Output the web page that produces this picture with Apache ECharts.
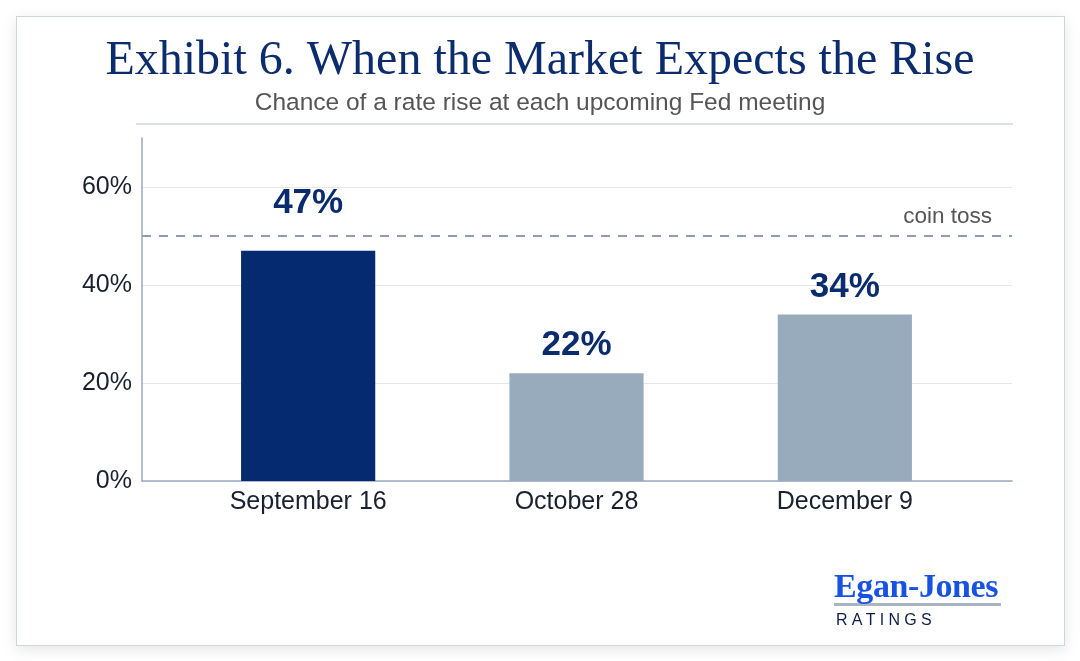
<!DOCTYPE html>
<html>
<head>
<meta charset="utf-8">
<script src="https://cdn.jsdelivr.net/npm/echarts@6/dist/echarts.min.js"></script>
<style>
  html, body { margin: 0; padding: 0; background: #ffffff; }
  #card {
    position: absolute; left: 16px; top: 16px; width: 1047px; height: 628px;
    border: 1px solid #cdd3df; background: #fff;
    box-shadow: 0 4px 14px rgba(0,0,0,0.10);
  }
  #main { position: absolute; left: 0; top: 0; width: 1080px; height: 661px; }
  #logo { position: absolute; left: 834px; top: 569px; font-family: "Liberation Serif", serif; }
  #logo .brand { font-size: 34px; font-weight: bold; color: #1752e3; line-height: 34px;
    border-bottom: 3px solid #a9b5c2; letter-spacing: -0.4px; width: 167px; white-space: nowrap; }
  #logo .sub { font-family: "Liberation Sans", Arial, sans-serif; font-size: 16px; color: #0f1f48;
    letter-spacing: 4.3px; margin-top: 5px; margin-left: 2px; }
</style>
</head>
<body>
<div id="card"></div>
<div id="main"></div>
<div id="logo"><div class="brand">Egan-Jones</div><div class="sub">RATINGS</div></div>
<script>
// 数据
var meetings = ['September 16', 'October 28', 'December 9'];
var riseChance = [47, 22, 34];
var barColors = ['#062a6f', '#97abbd', '#97abbd'];
var labelGap = [30, 10, 10]; // 47% 的标签放在虚线上面
var coinToss = 50;

var chartDom = document.getElementById('main');
var myChart = echarts.init(chartDom, null, { renderer: 'canvas' });

var barData = [];
for (var i = 0; i < riseChance.length; i++) {
    barData.push({
        value: riseChance[i],
        itemStyle: { color: barColors[i] },
        label: { distance: labelGap[i] }
    });
}

var option = {
    backgroundColor: 'transparent',
    title: [
        {
            text: 'Exhibit 6. When the Market Expects the Rise',
            left: 'center',
            top: 32,
            textStyle: { fontFamily: 'Liberation Serif', fontSize: 48, fontWeight: 'normal', color: '#0b2c6d' }
        },
        {
            text: 'Chance of a rate rise at each upcoming Fed meeting',
            left: 'center',
            top: 86,
            textStyle: { fontFamily: 'Liberation Sans', fontSize: 24.5, fontWeight: 'normal', color: '#555555' }
        }
    ],
    graphic: [
        {
            type: 'line',
            shape: { x1: 136, y1: 124, x2: 1013, y2: 124 },
            style: { stroke: '#dde1ea', lineWidth: 2 }
        }
    ],
    grid: [
        { left: 142, right: 68, top: 138, bottom: 180 },
        { left: 174, right: 101, top: 138, bottom: 180 }
    ],
    xAxis: [
        {
            gridIndex: 0,
            type: 'value',
            min: 0,
            max: 1,
            axisLine: { show: true, lineStyle: { color: '#9aa8c2', width: 1.5 } },
            axisTick: { show: false },
            axisLabel: { show: false },
            splitLine: { show: false }
        },
        {
            gridIndex: 1,
            type: 'category',
            data: meetings,
            axisLine: { show: false },
            axisTick: { show: false },
            axisLabel: { fontFamily: 'Liberation Sans', fontSize: 25, color: '#1b2030', margin: 9 }
        }
    ],
    yAxis: [
        {
            gridIndex: 0,
            type: 'value',
            min: 0,
            max: 70,
            interval: 20,
            axisLine: { show: true, lineStyle: { color: '#9aa8c2', width: 1.5 } },
            axisTick: { show: false },
            axisLabel: {
                formatter: '{value}%',
                showMaxLabel: false,
                fontFamily: 'Liberation Sans',
                fontSize: 25,
                color: '#1b2030',
                margin: 10
            },
            splitLine: { show: true, showMaxLine: false, lineStyle: { color: '#e6e7ea', width: 1 } }
        },
        {
            gridIndex: 1,
            type: 'value',
            min: 0,
            max: 70,
            show: false
        }
    ],
    series: [
        {
            // 只用来画 coin toss 虚线
            type: 'line',
            xAxisIndex: 0,
            yAxisIndex: 0,
            data: [],
            silent: true,
            markLine: {
                silent: true,
                symbol: 'none',
                data: [{ yAxis: coinToss }],
                lineStyle: { type: [9, 8], color: '#8c9db5', width: 2 },
                label: {
                    position: 'insideEndTop',
                    formatter: 'coin toss',
                    fontFamily: 'Liberation Sans',
                    fontSize: 22.5,
                    color: '#555555',
                    distance: [20, 8]
                }
            }
        },
        {
            type: 'bar',
            xAxisIndex: 1,
            yAxisIndex: 1,
            barWidth: '50%',
            data: barData,
            label: {
                show: true,
                position: 'top',
                formatter: '{c}%',
                fontFamily: 'Liberation Sans',
                fontSize: 35,
                fontWeight: 'bold',
                color: '#0a2b6e'
            }
        }
    ]
};
option && myChart.setOption(option);
</script>
</body>
</html>
